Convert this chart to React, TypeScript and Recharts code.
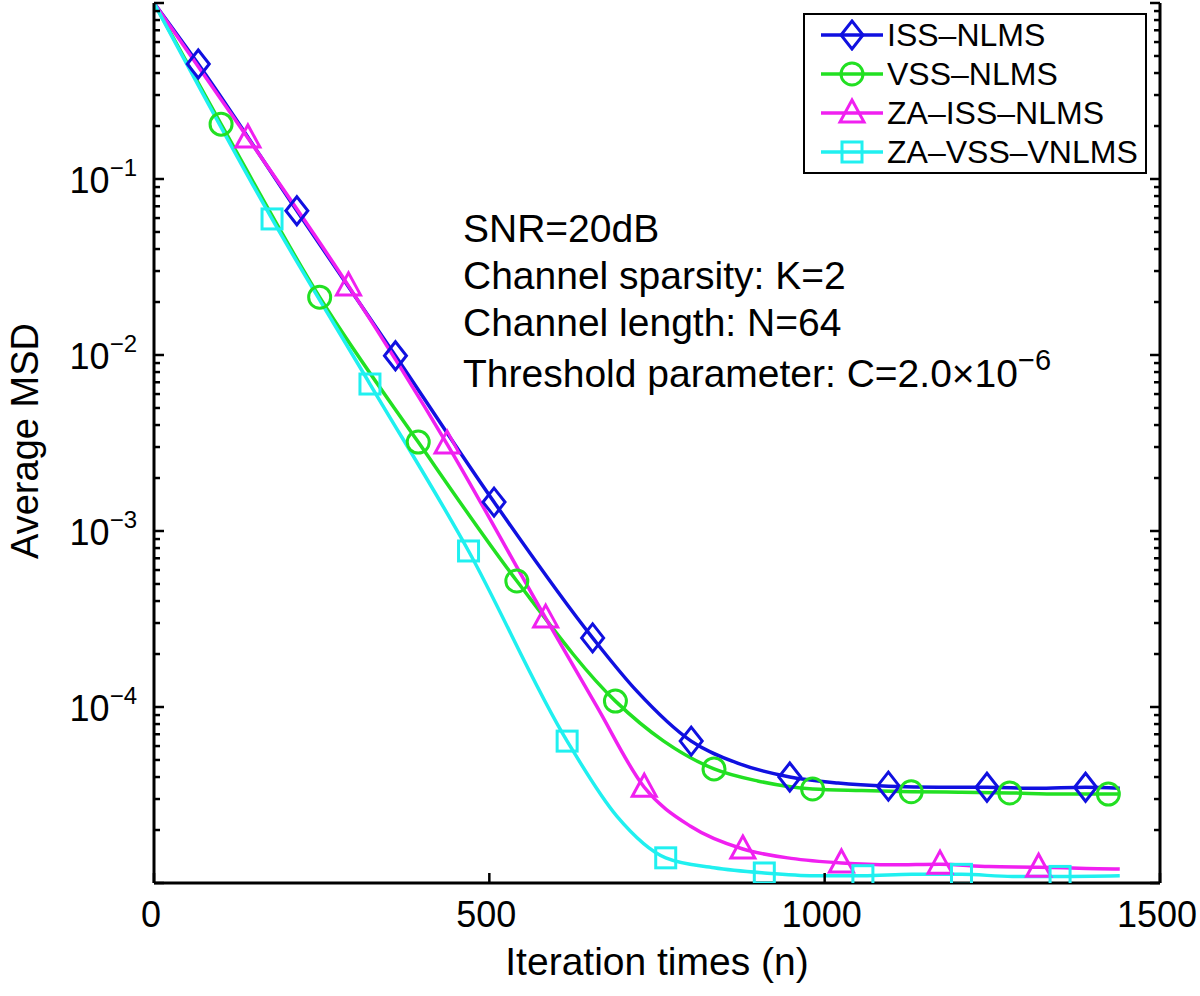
import { ComposedChart, Line, Scatter, XAxis, YAxis, Legend } from "recharts";

// iteration index and average MSD (markers every ~147 iterations)
const issN = [0, 66, 213, 360, 507, 654, 720, 801, 870, 948, 1020, 1095, 1170, 1242, 1315, 1389, 1440];
const issMsd = [1.0, 0.45, 0.066, 0.0099, 1.46e-3, 2.47e-4, 1.23e-4, 6.4e-5, 4.8e-5, 4.0e-5, 3.7e-5, 3.55e-5, 3.5e-5, 3.5e-5, 3.45e-5, 3.5e-5, 3.45e-5];
const issMarks = [66, 213, 360, 507, 654, 801, 948, 1095, 1242, 1389];

const vssN = [0, 100, 247, 394, 541, 688, 760, 835, 900, 982, 1055, 1129, 1200, 1276, 1350, 1423, 1440];
const vssMsd = [1.0, 0.205, 0.0213, 3.2e-3, 5.2e-4, 1.08e-4, 6.4e-5, 4.45e-5, 3.8e-5, 3.42e-5, 3.35e-5, 3.3e-5, 3.28e-5, 3.25e-5, 3.2e-5, 3.2e-5, 3.2e-5];
const vssMarks = [100, 247, 394, 541, 688, 835, 982, 1129, 1276, 1423];

const zaIssN = [0, 140, 290, 437, 584, 660, 731, 800, 878, 950, 1025, 1100, 1172, 1245, 1319, 1390, 1440];
const zaIssMsd = [1.0, 0.171, 0.0247, 3.12e-3, 3.2e-4, 1.01e-4, 3.5e-5, 2.1e-5, 1.56e-5, 1.38e-5, 1.3e-5, 1.27e-5, 1.28e-5, 1.24e-5, 1.23e-5, 1.21e-5, 1.2e-5];
const zaIssMarks = [140, 290, 437, 584, 731, 878, 1025, 1172, 1319];

const zaVssN = [0, 176, 322, 469, 616, 690, 763, 835, 910, 985, 1057, 1130, 1204, 1280, 1351, 1440];
const zaVssMsd = [1.0, 0.0593, 6.84e-3, 7.7e-4, 6.4e-5, 2.4e-5, 1.39e-5, 1.22e-5, 1.14e-5, 1.1e-5, 1.1e-5, 1.12e-5, 1.12e-5, 1.09e-5, 1.09e-5, 1.1e-5];
const zaVssMarks = [176, 322, 469, 616, 763, 910, 1057, 1204, 1351];

const xTicks = [0, 500, 1000, 1500];
const yLabelExps = [-4, -3, -2, -1];
const annotationLines = ["SNR=20dB", "Channel sparsity: K=2", "Channel length: N=64", "Threshold parameter: C=2.0\u00d710"];
const annotationSup = "\u22126";

const FONT = "'Liberation Sans', Arial, Helvetica, sans-serif";

// decade + minor ticks for the log axis
const yTicks: number[] = [];
for (let e = -5; e < 0; e++) {
  for (let m = 1; m <= 9; m++) yTicks.push(m * Math.pow(10, e));
}
yTicks.push(1);

const toPoints = (n: number[], v: number[]) => n.map((x, i) => ({ n: x, msd: v[i] }));
const pick = (n: number[], v: number[], marks: number[]) =>
  marks.map((m) => ({ n: m, msd: v[n.indexOf(m)] }));

const series = [
  { name: "ISS\u2013NLMS", color: "#1010e0", shape: "diamond", pts: toPoints(issN, issMsd), marks: pick(issN, issMsd, issMarks) },
  { name: "VSS\u2013NLMS", color: "#22e022", shape: "circle", pts: toPoints(vssN, vssMsd), marks: pick(vssN, vssMsd, vssMarks) },
  { name: "ZA\u2013ISS\u2013NLMS", color: "#f020f0", shape: "triangle", pts: toPoints(zaIssN, zaIssMsd), marks: pick(zaIssN, zaIssMsd, zaIssMarks) },
  { name: "ZA\u2013VSS\u2013VNLMS", color: "#20f0f0", shape: "square", pts: toPoints(zaVssN, zaVssMsd), marks: pick(zaVssN, zaVssMsd, zaVssMarks) },
];

function Glyph({ kind, cx, cy, color }: { kind: string; cx: number; cy: number; color: string }) {
  const common = { fill: "none", stroke: color, strokeWidth: 3 };
  if (kind === "diamond") {
    return <polygon points={`${cx},${cy - 14} ${cx + 11},${cy} ${cx},${cy + 14} ${cx - 11},${cy}`} {...common} />;
  }
  if (kind === "circle") return <circle cx={cx} cy={cy} r={11} {...common} />;
  if (kind === "triangle") {
    return <polygon points={`${cx},${cy - 13} ${cx + 12},${cy + 9} ${cx - 12},${cy + 9}`} {...common} />;
  }
  return <rect x={cx - 10} y={cy - 10} width={20} height={20} {...common} />;
}

const isDecade = (v: number) => Math.abs(Math.log10(v) - Math.round(Math.log10(v))) < 1e-6;

const YTickLeft = (props: any) => {
  const { x, y, payload } = props;
  const v = payload.value;
  const e = Math.round(Math.log10(v));
  const major = isDecade(v);
  return (
    <g>
      <line x1={x} x2={x + (major ? 10 : 6)} y1={y} y2={y} stroke="#000" strokeWidth={2.5} />
      {major && yLabelExps.includes(e) && (
        <text x={x - 17} y={y + 14} textAnchor="end" fontSize={36} fill="#000" fontFamily={FONT}>
          10<tspan dy={-17} fontSize={24}>{`\u2212${-e}`}</tspan>
        </text>
      )}
    </g>
  );
};

const YTickRight = (props: any) => {
  const { x, y, payload } = props;
  const major = isDecade(payload.value);
  return <line x1={x} x2={x - (major ? 10 : 6)} y1={y} y2={y} stroke="#000" strokeWidth={2.5} />;
};

const XTickBottom = (props: any) => {
  const { x, y, payload } = props;
  return (
    <g>
      <line x1={x} x2={x} y1={y} y2={y - 10} stroke="#000" strokeWidth={2.5} />
      <text x={x - 3} y={y + 44} textAnchor="middle" fontSize={36} fill="#000" fontFamily={FONT}>
        {payload.value}
      </text>
    </g>
  );
};

const XTickTop = (props: any) => {
  const { x, y } = props;
  return <line x1={x} x2={x} y1={y} y2={y + 10} stroke="#000" strokeWidth={2.5} />;
};

const LegendBox = () => (
  <div
    style={{
      width: 340,
      height: 157,
      border: "2.5px solid #000",
      background: "#fff",
      fontFamily: FONT,
      fontSize: 32,
      color: "#000",
    }}
  >
    {series.map((s) => (
      <div key={s.name} style={{ display: "flex", alignItems: "center", height: 39.25 }}>
        <svg width={82} height={32} style={{ flex: "none" }}>
          <line x1={16} x2={78} y1={16} y2={16} stroke={s.color} strokeWidth={3.5} />
          <Glyph kind={s.shape} cx={47} cy={16} color={s.color} />
        </svg>
        <span style={{ whiteSpace: "nowrap", lineHeight: 1 }}>{s.name}</span>
      </div>
    ))}
  </div>
);

export default function App() {
  return (
    <div style={{ position: "absolute", left: 0, top: 0, width: 1200, height: 996, background: "#fff" }}>
      <ComposedChart width={1200} height={996} margin={{ top: 3, right: 0, bottom: 0, left: 0 }}>
        <XAxis
          xAxisId="b"
          dataKey="n"
          type="number"
          domain={[0, 1500]}
          ticks={xTicks}
          interval={0}
          height={113}
          tickSize={0}
          tickMargin={0}
          tickLine={false}
          tick={<XTickBottom />}
          axisLine={{ stroke: "#000", strokeWidth: 3 }}
          allowDataOverflow
          label={{ value: "Iteration times (n)", position: "insideBottom", offset: 21, fontSize: 39, fill: "#000", fontFamily: FONT }}
        />
        <XAxis
          xAxisId="t"
          orientation="top"
          type="number"
          domain={[0, 1500]}
          ticks={xTicks}
          interval={0}
          height={0}
          tickSize={0}
          tickMargin={0}
          tickLine={false}
          tick={<XTickTop />}
          axisLine={{ stroke: "#000", strokeWidth: 3 }}
          allowDataOverflow
        />
        <YAxis
          yAxisId="l"
          dataKey="msd"
          scale="log"
          type="number"
          domain={[1e-5, 1]}
          ticks={yTicks}
          interval={0}
          width={154}
          tickSize={0}
          tickMargin={0}
          tickLine={false}
          tick={<YTickLeft />}
          axisLine={{ stroke: "#000", strokeWidth: 3 }}
          allowDataOverflow
          label={{
            content: () => (
              <text transform="translate(38,441) rotate(-90)" textAnchor="middle" fontSize={38} fill="#000" fontFamily={FONT}>
                Average MSD
              </text>
            ),
          }}
        />
        <YAxis
          yAxisId="r"
          orientation="right"
          scale="log"
          type="number"
          domain={[1e-5, 1]}
          ticks={yTicks}
          interval={0}
          width={40}
          tickSize={0}
          tickMargin={0}
          tickLine={false}
          tick={<YTickRight />}
          axisLine={{ stroke: "#000", strokeWidth: 3 }}
          allowDataOverflow
        />
        {series.map((s) => (
          <Line
            key={s.name + "-line"}
            xAxisId="b"
            yAxisId="l"
            data={s.pts}
            dataKey="msd"
            type="monotone"
            stroke={s.color}
            strokeWidth={3.5}
            dot={false}
            activeDot={false}
            isAnimationActive={false}
            legendType="none"
          />
        ))}
        {series.map((s) => (
          <Scatter
            key={s.name + "-marks"}
            xAxisId="b"
            yAxisId="l"
            data={s.marks}
            dataKey="msd"
            isAnimationActive={false}
            legendType="none"
            shape={(p: any) => <Glyph kind={s.shape} cx={p.cx} cy={p.cy} color={s.color} />}
          />
        ))}
        <Legend
          content={<LegendBox />}
          layout="vertical"
          align="center"
          verticalAlign="middle"
          wrapperStyle={{ left: 803, top: 13, width: 345, height: 162 }}
        />
      </ComposedChart>
      <svg
        width={1200}
        height={996}
        style={{ position: "absolute", left: 0, top: 0, pointerEvents: "none" }}
        fontFamily={FONT}
      >
        {annotationLines.map((t, i) => (
          <text key={t} x={463} y={[242, 289, 336, 387][i]} fontSize={39} fill="#000">
            {t}
            {i === annotationLines.length - 1 && (
              <tspan dy={-17} fontSize={29}>
                {annotationSup}
              </tspan>
            )}
          </text>
        ))}
      </svg>
    </div>
  );
}
